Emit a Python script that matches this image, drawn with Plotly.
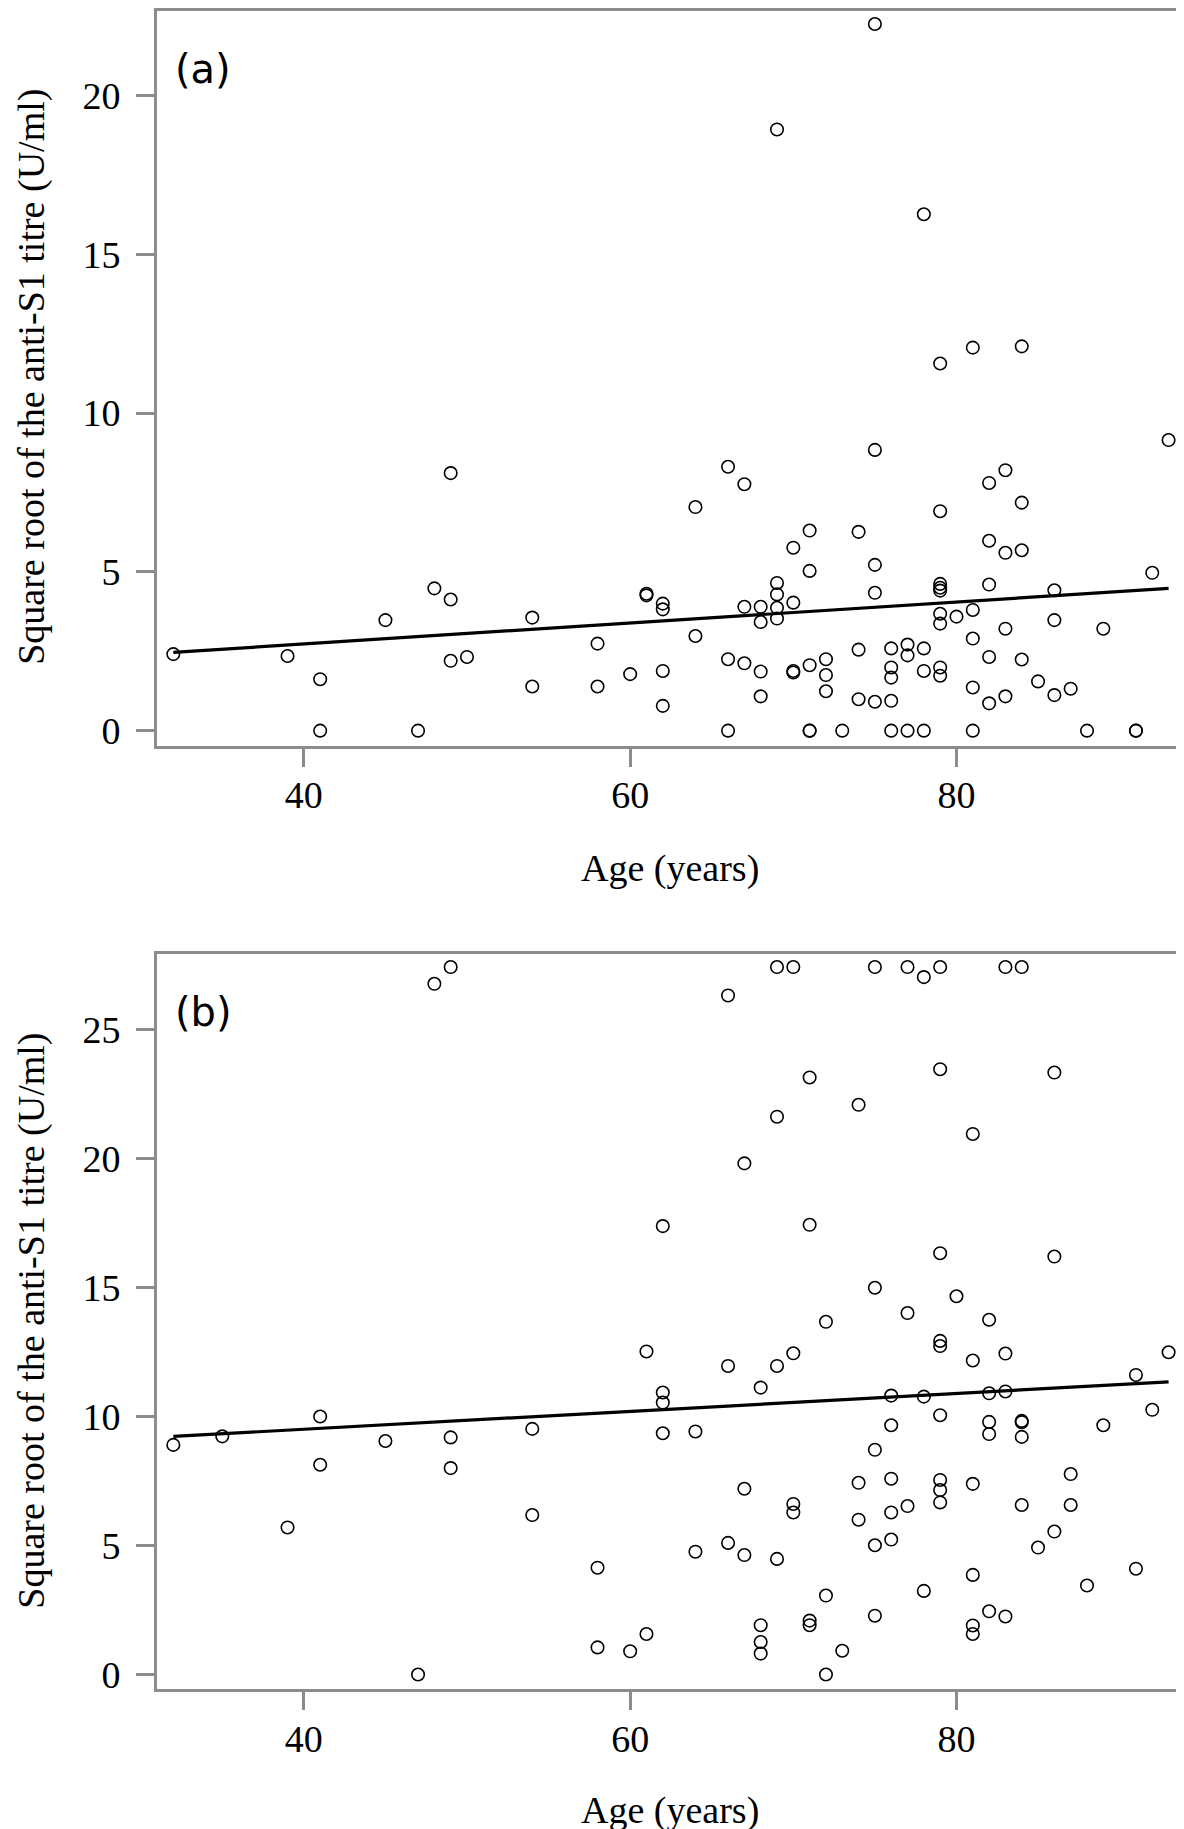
import numpy as np
import plotly.graph_objects as go

W, H = 1184, 1829

# ---------------- Data ----------------
age_a = [32, 39, 41, 41, 45, 47, 48, 49, 49, 49, 50, 54, 54, 58, 58, 60, 61, 61,
         62, 62, 62, 62, 64, 64, 66, 66, 66, 67, 67, 67, 68, 68, 68, 68,
         69, 69, 69, 69, 69, 70, 70, 70, 70, 71, 71, 71, 71, 71, 72, 72, 72, 73,
         74, 74, 74, 75, 75, 75, 75, 75, 76, 76, 76, 76, 76, 77, 77, 77,
         78, 78, 78, 78, 79, 79, 79, 79, 79, 79, 79, 79, 79, 80,
         81, 81, 81, 81, 81, 82, 82, 82, 82, 82, 83, 83, 83, 83,
         84, 84, 84, 84, 85, 86, 86, 86, 87, 88, 89, 91, 91, 92, 93]
val_a = [2.41, 2.35, 1.62, 0.0, 3.48, 0.0, 4.48, 8.11, 4.13, 2.20, 2.32, 3.56, 1.39, 2.74, 1.39, 1.78, 4.31, 4.26,
         4.00, 3.82, 1.88, 0.78, 7.04, 2.98, 8.31, 2.25, 0.0, 7.76, 3.90, 2.12, 3.90, 3.42, 1.86, 1.08,
         18.93, 4.65, 4.29, 3.87, 3.53, 5.76, 4.03, 1.88, 1.83, 6.30, 5.03, 2.06, 0.0, 0.0, 2.25, 1.75, 1.24, 0.0,
         6.26, 2.55, 0.99, 22.25, 8.84, 5.22, 4.34, 0.91, 2.59, 1.99, 1.67, 0.94, 0.0, 2.71, 2.37, 0.0,
         16.26, 2.59, 1.88, 0.0, 11.56, 6.91, 4.62, 4.50, 4.41, 3.68, 3.37, 1.99, 1.73, 3.59,
         12.06, 3.80, 2.90, 1.36, 0.0, 7.80, 5.98, 4.60, 2.32, 0.86, 8.20, 5.60, 3.21, 1.08,
         12.10, 7.18, 5.68, 2.24, 1.55, 4.42, 3.48, 1.12, 1.32, 0.0, 3.21, 0.0, 0.0, 4.97, 9.15]

age_b = [32, 35, 39, 41, 41, 45, 47, 48, 49, 49, 49, 54, 54, 58, 58, 60, 61, 61,
         62, 62, 62, 62, 64, 64, 66, 66, 66, 67, 67, 67, 68, 68, 68, 68,
         69, 69, 69, 69, 70, 70, 70, 70, 71, 71, 71, 71, 72, 72, 72, 73,
         74, 74, 74, 75, 75, 75, 75, 75, 76, 76, 76, 76, 76, 77, 77, 77,
         78, 78, 78, 79, 79, 79, 79, 79, 79, 79, 79, 79, 80,
         81, 81, 81, 81, 81, 81, 82, 82, 82, 82, 82, 83, 83, 83, 83,
         84, 84, 84, 84, 84, 85, 86, 86, 86, 87, 87, 88, 89, 91, 91, 92, 93]
val_b = [8.90, 9.23, 5.70, 10.00, 8.13, 9.05, 0.0, 26.77, 27.42, 9.19, 8.00, 9.52, 6.18, 4.14, 1.05, 0.90, 12.52, 1.57,
         17.38, 10.93, 10.54, 9.35, 9.42, 4.76, 26.32, 11.96, 5.10, 19.81, 7.20, 4.63, 11.12, 1.91, 1.26, 0.81,
         27.42, 21.62, 11.96, 4.48, 27.42, 12.45, 6.61, 6.28, 23.14, 17.43, 2.09, 1.91, 13.67, 3.06, 0.0, 0.92,
         22.08, 7.43, 6.00, 27.42, 14.99, 8.71, 5.01, 2.28, 10.81, 9.66, 7.59, 6.28, 5.23, 27.42, 14.01, 6.53,
         27.03, 10.77, 3.24, 27.42, 23.46, 16.33, 12.93, 12.73, 10.05, 7.54, 7.15, 6.67, 14.66,
         20.95, 12.17, 7.39, 3.86, 1.90, 1.57, 13.75, 10.90, 9.79, 9.32, 2.45, 27.42, 12.44, 10.97, 2.25,
         27.42, 9.83, 9.78, 9.21, 6.57, 4.92, 23.33, 16.20, 5.54, 7.77, 6.57, 3.45, 9.66, 11.61, 4.10, 10.26, 12.49]

x_ticks = [40, 60, 80]
y_ticks_a = [0, 5, 10, 15, 20]
y_ticks_b = [0, 5, 10, 15, 20, 25]
panel_labels = ["(a)", "(b)"]
x_title = "Age (years)"
y_title = "Square root of the anti-S1 titre (U/ml)"

# ---------------- Figure ----------------
def px_x(p):
    return p / W

def px_y(p):
    return 1 - p / H

AX_COL = "#8c8c8c"
SERIF = "Liberation Serif, Times New Roman, serif"
FS = 38

fig = go.Figure()

panels = [
    dict(age=age_a, val=val_a, xa="x", ya="y"),
    dict(age=age_b, val=val_b, xa="x2", ya="y2"),
]

for p in panels:
    fig.add_trace(go.Scatter(
        x=p["age"], y=p["val"], mode="markers", xaxis=p["xa"], yaxis=p["ya"],
        marker=dict(symbol="circle-open", size=12.5, color="black", line=dict(width=1.6, color="black")),
        showlegend=False, hoverinfo="x+y"))
    slope, icpt = np.polyfit(np.array(p["age"], float), np.array(p["val"], float), 1)
    xs = np.array([min(p["age"]), max(p["age"])], float)
    fig.add_trace(go.Scatter(
        x=xs, y=icpt + slope * xs, mode="lines", xaxis=p["xa"], yaxis=p["ya"],
        line=dict(color="black", width=3.2), showlegend=False, hoverinfo="skip"))

x_dom = [px_x(149), px_x(1172)]
axis_common = dict(showline=True, mirror=True, linecolor=AX_COL, linewidth=3,
                   ticks="outside", ticklen=18, tickwidth=3, tickcolor=AX_COL,
                   showgrid=False, zeroline=False,
                   tickfont=dict(family=SERIF, size=FS, color="black"))

fig.update_layout(
    width=W, height=H, margin=dict(l=0, r=0, t=0, b=0),
    paper_bgcolor="white", plot_bgcolor="white",
    xaxis=dict(domain=x_dom, range=[31.0, 93.7], tickvals=x_ticks, anchor="y",
               ticklabelstandoff=-4, **axis_common),
    yaxis=dict(domain=[px_y(740), px_y(3)], range=[-0.47, 22.66], tickvals=y_ticks_a, anchor="x",
               ticklabelstandoff=8, **axis_common),
    xaxis2=dict(domain=x_dom, range=[31.0, 93.7], tickvals=x_ticks, anchor="y2",
                ticklabelstandoff=-4, **axis_common),
    yaxis2=dict(domain=[px_y(1687), px_y(949)], range=[-0.58, 27.93], tickvals=y_ticks_b, anchor="x2",
                ticklabelstandoff=8, **axis_common),
)

annots = []
for lab, ly, tcy, xty in [(panel_labels[0], 61, 370, 863), (panel_labels[1], 1007, 1317, 1808)]:
    annots.append(dict(text=lab, xref="paper", yref="paper", x=px_x(165), y=px_y(ly),
                       xanchor="left", yanchor="middle", showarrow=False,
                       font=dict(family="DejaVu Sans, Verdana, sans-serif", size=40, color="black")))
    annots.append(dict(text=y_title, xref="paper", yref="paper", x=px_x(24), y=px_y(tcy),
                       xanchor="center", yanchor="middle", textangle=-90, showarrow=False,
                       font=dict(family=SERIF, size=FS, color="black")))
    annots.append(dict(text=x_title, xref="paper", yref="paper", x=px_x(662), y=px_y(xty),
                       xanchor="center", yanchor="middle", showarrow=False,
                       font=dict(family=SERIF, size=FS, color="black")))
fig.update_layout(annotations=annots)

fig.write_html("out.html")
